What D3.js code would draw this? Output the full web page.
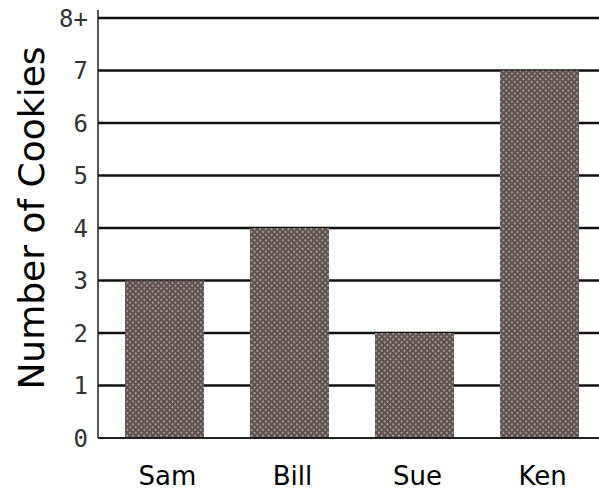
<!DOCTYPE html>
<html>
<head>
<meta charset="utf-8">
<script src="https://cdn.jsdelivr.net/npm/d3@7"></script>
<style>
  body { margin: 0; background: #fff; }
</style>
</head>
<body>
<div id="chart"></div>
<script>
var names = ['Sam', 'Bill', 'Sue', 'Ken'];
var cookies = [3, 4, 2, 7];
var tickValues = [0, 1, 2, 3, 4, 5, 6, 7, 8];
var tickLabels = ['0', '1', '2', '3', '4', '5', '6', '7', '8+'];

var width = 599, height = 494;

var svg = d3.select('#chart')
    .append('svg')
    .attr('width', width)
    .attr('height', height);

// halftone look for the bars
var pat = svg.append('defs').append('pattern')
    .attr('id', 'dots')
    .attr('width', 4)
    .attr('height', 4)
    .attr('patternUnits', 'userSpaceOnUse')
    .attr('patternTransform', 'rotate(45)');
pat.append('rect').attr('width', 4).attr('height', 4).attr('fill', '#5e514d');
pat.append('circle').attr('cx', 2).attr('cy', 2).attr('r', 1.1).attr('fill', '#b3aaa6');

var x = d3.scaleBand()
    .domain(names)
    .range([98, 606])
    .paddingInner(0.368)
    .paddingOuter(0.216);

var y = d3.scaleLinear()
    .domain([0, 8])
    .range([438, 18]);

// grid lines
svg.selectAll('.grid')
    .data(tickValues.slice(1))
    .enter()
    .append('line')
    .attr('class', 'grid')
    .attr('x1', 98)
    .attr('x2', width)
    .attr('y1', function (d) { return y(d); })
    .attr('y2', function (d) { return y(d); })
    .attr('stroke', '#111')
    .attr('stroke-width', 2.5);

// bars
svg.selectAll('.bar')
    .data(cookies)
    .enter()
    .append('rect')
    .attr('class', 'bar')
    .attr('x', function (d, i) { return x(names[i]); })
    .attr('y', function (d) { return y(d); })
    .attr('width', x.bandwidth())
    .attr('height', function (d) { return y(0) - y(d); })
    .attr('fill', 'url(#dots)');

// axes lines
svg.append('line')
    .attr('x1', 98).attr('x2', 98)
    .attr('y1', 10).attr('y2', y(0))
    .attr('stroke', '#222')
    .attr('stroke-width', 1.5);

svg.append('line')
    .attr('x1', 98).attr('x2', width)
    .attr('y1', y(0)).attr('y2', y(0))
    .attr('stroke', '#222')
    .attr('stroke-width', 2);

// y tick labels
svg.selectAll('.ylab')
    .data(tickValues)
    .enter()
    .append('text')
    .attr('class', 'ylab')
    .attr('x', 88)
    .attr('y', function (d) { return y(d); })
    .attr('dy', '0.36em')
    .attr('text-anchor', 'end')
    .attr('font-family', 'DejaVu Sans Mono')
    .attr('font-size', 24)
    .attr('fill', '#333')
    .text(function (d, i) { return tickLabels[i]; });

// category labels
svg.selectAll('.xlab')
    .data(names)
    .enter()
    .append('text')
    .attr('class', 'xlab')
    .attr('x', function (d) { return x(d) + x.bandwidth() / 2 + 3; })
    .attr('y', 485)
    .attr('text-anchor', 'middle')
    .attr('font-family', 'DejaVu Sans')
    .attr('font-size', 26)
    .attr('fill', '#000')
    .text(function (d) { return d; });

// axis title
svg.append('text')
    .attr('transform', 'translate(44,218) rotate(-90)')
    .attr('text-anchor', 'middle')
    .attr('font-family', 'DejaVu Sans')
    .attr('font-size', 36)
    .attr('fill', '#000')
    .text('Number of Cookies');
</script>
</body>
</html>
